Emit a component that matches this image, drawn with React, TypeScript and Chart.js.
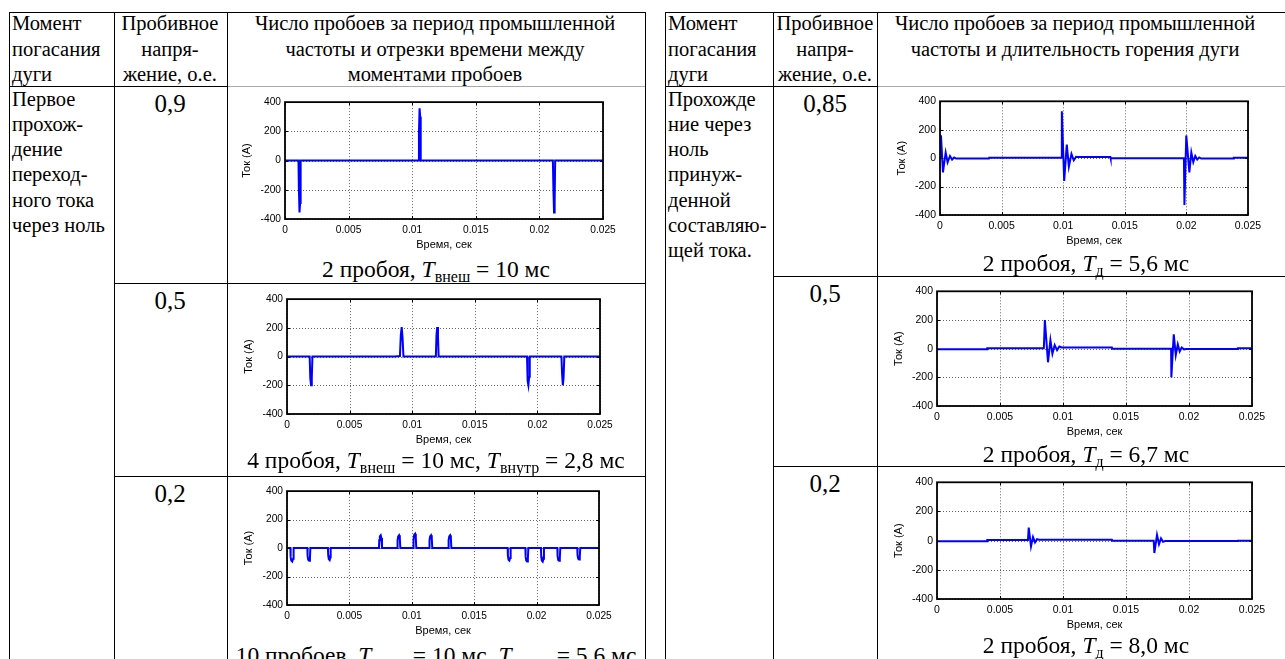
import React, { useEffect, useRef } from 'react';
import { Chart, registerables } from 'chart.js';
Chart.register(...registerables);

type Pt = [number, number];

// ---------- axis data ----------
const X_TICKS = [0, 0.005, 0.01, 0.015, 0.02, 0.025];
const X_TICK_LABELS = ['0', '0.005', '0.01', '0.015', '0.02', '0.025'];
const Y_TICKS = [-400, -200, 0, 200, 400];
const Y_TICK_LABELS = ['-400', '-200', '0', '200', '400'];
const X_TITLE = 'Время, сек';
const Y_TITLE = 'Ток (A)';

// ---------- series: [time, s ; current, A] ----------
const CUR_L_09: Pt[] = [
  [0, 0], [0.00106, 0], [0.00109, -190], [0.00114, -355], [0.00119, -290], [0.00123, 0],
  [0.01049, 0], [0.01053, 190], [0.01058, 358], [0.01063, 300], [0.01067, 0],
  [0.02106, 0], [0.0211, -190], [0.02115, -355], [0.0212, -280], [0.02124, 0],
  [0.025, 0],
];
const CUR_L_05: Pt[] = [
  [0, 0],
  [0.00181, 0], [0.00186, -150], [0.00192, -200], [0.00198, -150], [0.00203, 0],
  [0.0086, 0], [0.00902, 4], [0.00909, 150], [0.00916, 205], [0.00923, 130], [0.0093, 0],
  [0.01189, 0], [0.01194, 150], [0.012, 205], [0.01206, 140], [0.01211, 0],
  [0.01917, 0], [0.01922, -170], [0.01928, -200], [0.01934, -140], [0.01939, 0],
  [0.02192, 0], [0.02197, -120], [0.02203, -200], [0.02209, -150], [0.02215, 0],
  [0.025, 0],
];
const CUR_L_02: Pt[] = [
  [0, 0],
  [0.00027, 0], [0.00029, -60], [0.00034, -88], [0.00042, -95], [0.00049, -75], [0.00053, 0],
  [0.00163, 0], [0.00165, -55], [0.0017, -82], [0.00178, -90], [0.00184, -70], [0.00187, 0],
  [0.00328, 0], [0.0033, -50], [0.00335, -78], [0.00342, -85], [0.00347, -65], [0.0035, 0],
  [0.00737, 0], [0.00739, 55], [0.00744, 82], [0.00751, 90], [0.00757, 70], [0.00761, 0],
  [0.00884, 0], [0.00886, 55], [0.00891, 82], [0.00898, 90], [0.00904, 70], [0.00908, 0],
  [0.01012, 0], [0.01014, 60], [0.01019, 92], [0.01026, 100], [0.01032, 75], [0.01036, 0],
  [0.0114, 0], [0.01142, 55], [0.01147, 82], [0.01154, 90], [0.0116, 70], [0.01164, 0],
  [0.01293, 0], [0.01295, 55], [0.013, 82], [0.01307, 90], [0.01313, 70], [0.01317, 0],
  [0.01768, 0], [0.0177, -55], [0.01775, -82], [0.01782, -88], [0.01788, -70], [0.01792, 0],
  [0.0191, 0], [0.01912, -60], [0.01917, -88], [0.01924, -95], [0.0193, -75], [0.01934, 0],
  [0.02035, 0], [0.02037, -60], [0.02042, -88], [0.02049, -95], [0.02055, -75], [0.02059, 0],
  [0.02166, 0], [0.02168, -55], [0.02173, -84], [0.0218, -90], [0.02186, -72], [0.0219, 0],
  [0.02326, 0], [0.02328, -50], [0.02333, -75], [0.0234, -80], [0.02346, -62], [0.0235, 0],
  [0.025, 0],
];
const CUR_R_085: Pt[] = [
  [0, 0], [0.00008, 160], [0.00024, -100], [0.00046, 40], [0.00062, -30], [0.00081, 15],
  [0.00098, -10], [0.00115, 5], [0.0013, -3],
  [0.00397, -3], [0.00399, 3],
  [0.00985, 3], [0.00989, 330], [0.01008, -160], [0.01029, 95], [0.01046, -60], [0.01067, 30],
  [0.01086, -15], [0.01105, 10], [0.0112, 8],
  [0.01383, 8], [0.01385, 0],
  [0.0198, 0], [0.01984, -330], [0.01999, 160], [0.02024, -100], [0.0204, 40], [0.02056, -28],
  [0.02072, 15], [0.02088, -10], [0.02104, 5], [0.0212, -3],
  [0.02383, -3], [0.02385, 2], [0.025, 2],
];
const CUR_R_05: Pt[] = [
  [0, -4], [0.00397, -4], [0.00399, 2],
  [0.00848, 2], [0.00856, 200], [0.00881, -95], [0.009, 60], [0.00916, -35], [0.00934, 25],
  [0.00953, -10], [0.00971, 15], [0.0099, 8],
  [0.01388, 8], [0.0139, 0],
  [0.01858, 0], [0.0186, -200], [0.01879, 100], [0.01895, -45], [0.01911, 30], [0.01926, -20],
  [0.01942, 8], [0.0196, -5], [0.0198, -3],
  [0.02386, -3], [0.02388, 3], [0.025, 3],
];
const CUR_R_02: Pt[] = [
  [0, -4], [0.00397, -4], [0.00399, 4],
  [0.00722, 4], [0.00728, 90], [0.00746, -40], [0.00762, 25], [0.00778, -12], [0.00794, 10], [0.0081, 6],
  [0.01388, 6], [0.0139, 0],
  [0.0172, 0], [0.01725, -85], [0.01746, 40], [0.01762, -25], [0.01778, 15], [0.01794, -8], [0.0181, -3],
  [0.02386, -3], [0.02388, 0], [0.025, 0],
];

// ---------- table text ----------
const HEAD_MOMENT = ['Момент', 'погасания', 'дуги'];
const HEAD_VOLTAGE = ['Пробивное', 'напря-', 'жение, о.е.'];
const HEAD_LEFT_RESULT = ['Число пробоев за период промышленной', 'частоты и отрезки времени между', 'моментами пробоев'];
const HEAD_RIGHT_RESULT = ['Число пробоев за период промышленной', 'частоты и длительность горения дуги'];
const LEFT_MOMENT = ['Первое', 'прохож-', 'дение', 'переход-', 'ного тока', 'через ноль'];
const RIGHT_MOMENT = ['Прохожде', 'ние через', 'ноль', 'принуж-', 'денной', 'составляю-', 'щей тока.'];
const LEFT_VOLTAGES = ['0,9', '0,5', '0,2'];
const RIGHT_VOLTAGES = ['0,85', '0,5', '0,2'];
type Seg = string | [string, string];
const LEFT_CAPTIONS: Seg[][] = [
  ['2 пробоя, ', ['T', 'внеш'], ' = 10 мс'],
  ['4 пробоя, ', ['T', 'внеш'], ' = 10 мс, ', ['T', 'внутр'], ' = 2,8 мс'],
  ['10 пробоев, ', ['T', 'внеш'], ' = 10 мс, ', ['T', 'внутр'], ' = 5,6 мс'],
];
const RIGHT_CAPTIONS: Seg[][] = [
  ['2 пробоя, ', ['T', 'д'], ' = 5,6 мс'],
  ['2 пробоя, ', ['T', 'д'], ' = 6,7 мс'],
  ['2 пробоя, ', ['T', 'д'], ' = 8,0 мс'],
];

// ---------- layout ----------
const LEFT_PLOTS = [
  { l: 285, t: 100, r: 603, b: 219 },
  { l: 287, t: 297, r: 600, b: 414 },
  { l: 287, t: 489, r: 599, b: 605 },
];
const RIGHT_PLOTS = [
  { l: 940, t: 99, r: 1248, b: 215 },
  { l: 937, t: 289, r: 1252, b: 406 },
  { l: 937, t: 480, r: 1252, b: 599 },
];
const LEFT_CAPTION_BASE = [277, 468, 663];
const RIGHT_CAPTION_BASE = [271, 462, 653];
const LEFT_ROWS = [86, 283, 476];
const RIGHT_ROWS = [86, 276, 466];

const SERIF = '"Liberation Serif", "Times New Roman", serif';
const SANS = "'Liberation Sans', Arial, sans-serif";

const YW = 45, PT = 8, PR = 22, XH = 36;

const matlabPlugin = {
  id: 'matlabAxes',
  beforeDatasetsDraw(chart: any) {
    const { ctx, chartArea: a, scales } = chart;
    const x = scales.x, y = scales.y;
    ctx.save();
    ctx.strokeStyle = 'rgba(0,0,0,0.6)';
    ctx.lineWidth = 1;
    ctx.setLineDash([1, 2]);
    ctx.beginPath();
    X_TICKS.forEach((v) => {
      const p = Math.round(x.getPixelForValue(v)) + 0.5;
      ctx.moveTo(p, a.top); ctx.lineTo(p, a.bottom);
    });
    Y_TICKS.forEach((v) => {
      const p = Math.round(y.getPixelForValue(v)) + 0.5;
      ctx.moveTo(a.left, p); ctx.lineTo(a.right, p);
    });
    ctx.stroke();
    ctx.restore();
  },
  afterDatasetsDraw(chart: any) {
    const { ctx, chartArea: a, scales } = chart;
    const x = scales.x, y = scales.y;
    ctx.save();
    ctx.setLineDash([]);
    ctx.strokeStyle = '#000';
    ctx.lineWidth = 1;
    ctx.beginPath();
    const tl = 3;
    X_TICKS.forEach((v) => {
      const p = Math.round(x.getPixelForValue(v)) + 0.5;
      ctx.moveTo(p, a.top); ctx.lineTo(p, a.top + tl);
      ctx.moveTo(p, a.bottom); ctx.lineTo(p, a.bottom - tl);
    });
    Y_TICKS.forEach((v) => {
      const p = Math.round(y.getPixelForValue(v)) + 0.5;
      ctx.moveTo(a.left, p); ctx.lineTo(a.left + tl, p);
      ctx.moveTo(a.right, p); ctx.lineTo(a.right - tl, p);
    });
    ctx.stroke();
    ctx.lineWidth = 1.8;
    ctx.strokeRect(a.left, a.top, a.right - a.left, a.bottom - a.top);
    ctx.restore();
  },
};

function Plot({ points, plot, font }: { points: Pt[]; plot: { l: number; t: number; r: number; b: number }; font: number }) {
  const ref = useRef<HTMLCanvasElement>(null);
  const w = plot.r - plot.l + YW + PR;
  const h = plot.b - plot.t + PT + XH;
  useEffect(() => {
    if (!ref.current) return;
    const tickFont = { family: SANS, size: font };
    const titleFont = { family: SANS, size: 11 };
    const chart = new Chart(ref.current, {
      type: 'line',
      data: {
        datasets: [{
          data: points.map(([x, y]) => ({ x, y })),
          borderColor: '#0000ff',
          borderWidth: 2,
          pointRadius: 0,
          tension: 0,
          fill: false,
        }],
      },
      options: {
        responsive: false,
        maintainAspectRatio: false,
        animation: false,
        events: [],
        layout: { padding: { left: 0, top: PT, right: PR, bottom: 0 } },
        plugins: { legend: { display: false }, tooltip: { enabled: false } },
        scales: {
          x: {
            type: 'linear',
            min: 0,
            max: 0.025,
            afterBuildTicks: (s: any) => { s.ticks = X_TICKS.map((v) => ({ value: v })); },
            afterFit: (s: any) => { s.height = XH; },
            grid: { display: false, drawTicks: false },
            border: { display: false },
            ticks: {
              callback: (_v: any, i: number) => X_TICK_LABELS[i],
              padding: 5,
              color: '#000',
              font: tickFont,
              maxRotation: 0,
              autoSkip: false,
            },
            title: { display: true, text: X_TITLE, color: '#000', font: titleFont, padding: { top: 0, bottom: 3 } },
          },
          y: {
            type: 'linear',
            min: -400,
            max: 400,
            afterBuildTicks: (s: any) => { s.ticks = Y_TICKS.map((v) => ({ value: v })); },
            afterFit: (s: any) => { s.width = YW; },
            grid: { display: false, drawTicks: false },
            border: { display: false },
            ticks: {
              callback: (_v: any, i: number) => Y_TICK_LABELS[i],
              padding: 4,
              color: '#000',
              font: tickFont,
              autoSkip: false,
            },
            title: { display: true, text: Y_TITLE, color: '#000', font: titleFont, padding: { top: 0, bottom: 0 } },
          },
        },
      } as any,
      plugins: [matlabPlugin],
    });
    return () => chart.destroy();
  }, []);
  return (
    <canvas
      ref={ref}
      width={w}
      height={h}
      style={{ position: 'absolute', left: plot.l - YW, top: plot.t - PT, width: w, height: h }}
    />
  );
}

function Lines({ x, y, w, align, size, lh, lines }: { x: number; y: number; w: number; align: 'left' | 'center'; size: number; lh: number; lines: string[] }) {
  return (
    <div
      style={{
        position: 'absolute', left: x, top: y, width: w, textAlign: align,
        fontFamily: SERIF, fontSize: size, lineHeight: lh + 'px', whiteSpace: 'nowrap', color: '#000',
      }}
    >
      {lines.map((l, i) => <div key={i}>{l}</div>)}
    </div>
  );
}

function Caption({ cx, base, segs }: { cx: number; base: number; segs: Seg[] }) {
  return (
    <div
      style={{
        position: 'absolute', left: cx - 250, top: base - 20.9, width: 500, textAlign: 'center',
        fontFamily: SERIF, fontSize: 23.5, lineHeight: '26px', whiteSpace: 'nowrap', color: '#000',
      }}
    >
      {segs.map((s, i) =>
        typeof s === 'string' ? (
          <span key={i}>{s}</span>
        ) : (
          <span key={i}>
            <i>{s[0]}</i>
            <span style={{ fontSize: 16, position: 'relative', top: 5 }}>{s[1]}</span>
          </span>
        )
      )}
    </div>
  );
}

function HLine({ x1, x2, y, color = '#000' }: { x1: number; x2: number; y: number; color?: string }) {
  return <div style={{ position: 'absolute', left: x1, top: y, width: x2 - x1, height: 1, background: color }} />;
}
function VLine({ x, y1, y2 }: { x: number; y1: number; y2: number }) {
  return <div style={{ position: 'absolute', left: x, top: y1, width: 1, height: y2 - y1, background: '#000' }} />;
}

export default function App() {
  const HS = 20.5, HLH = 25.3;
  return (
    <div style={{ position: 'absolute', left: 0, top: 0, width: 1285, height: 659, overflow: 'hidden', background: '#fff' }}>
      {/* left table grid */}
      <HLine x1={9} x2={645} y={12} />
      <HLine x1={9} x2={227} y={86} />
      <HLine x1={227} x2={645} y={86} color="#aaa" />
      <HLine x1={114} x2={645} y={LEFT_ROWS[1]} />
      <HLine x1={114} x2={645} y={LEFT_ROWS[2]} />
      <VLine x={9} y1={12} y2={659} />
      <VLine x={114} y1={12} y2={659} />
      <VLine x={227} y1={12} y2={659} />
      <VLine x={645} y1={12} y2={659} />
      {/* right table grid */}
      <HLine x1={665} x2={1285} y={12} />
      <HLine x1={665} x2={877} y={86} />
      <HLine x1={877} x2={1285} y={86} color="#aaa" />
      <HLine x1={773} x2={1285} y={RIGHT_ROWS[1]} />
      <HLine x1={773} x2={1285} y={RIGHT_ROWS[2]} />
      <VLine x={665} y1={12} y2={659} />
      <VLine x={773} y1={12} y2={659} />
      <VLine x={877} y1={12} y2={659} />

      {/* headers */}
      <Lines x={12} y={11.3} w={100} align="left" size={HS} lh={HLH} lines={HEAD_MOMENT} />
      <Lines x={70} y={11.3} w={200} align="center" size={HS} lh={HLH} lines={HEAD_VOLTAGE} />
      <Lines x={135} y={11.3} w={600} align="center" size={HS} lh={HLH} lines={HEAD_LEFT_RESULT} />
      <Lines x={668} y={11.3} w={100} align="left" size={HS} lh={HLH} lines={HEAD_MOMENT} />
      <Lines x={725} y={11.3} w={200} align="center" size={HS} lh={HLH} lines={HEAD_VOLTAGE} />
      <Lines x={775} y={11.3} w={600} align="center" size={HS} lh={HLH} lines={HEAD_RIGHT_RESULT} />

      {/* row labels */}
      <Lines x={12} y={86.6} w={100} align="left" size={HS} lh={HLH} lines={LEFT_MOMENT} />
      <Lines x={668} y={86.6} w={100} align="left" size={HS} lh={HLH} lines={RIGHT_MOMENT} />
      {LEFT_VOLTAGES.map((v, i) => (
        <Lines key={'lv' + i} x={70} y={LEFT_ROWS[i] + 3} w={200} align="center" size={25} lh={30} lines={[v]} />
      ))}
      {RIGHT_VOLTAGES.map((v, i) => (
        <Lines key={'rv' + i} x={725} y={RIGHT_ROWS[i] + 3} w={200} align="center" size={25} lh={30} lines={[v]} />
      ))}

      {/* charts */}
      <Plot points={CUR_L_09} plot={LEFT_PLOTS[0]} font={10.2} />
      <Plot points={CUR_L_05} plot={LEFT_PLOTS[1]} font={10.2} />
      <Plot points={CUR_L_02} plot={LEFT_PLOTS[2]} font={10.2} />
      <Plot points={CUR_R_085} plot={RIGHT_PLOTS[0]} font={10.5} />
      <Plot points={CUR_R_05} plot={RIGHT_PLOTS[1]} font={10.5} />
      <Plot points={CUR_R_02} plot={RIGHT_PLOTS[2]} font={10.5} />

      {/* captions */}
      {LEFT_CAPTIONS.map((c, i) => (
        <Caption key={'lc' + i} cx={436} base={LEFT_CAPTION_BASE[i]} segs={c} />
      ))}
      {RIGHT_CAPTIONS.map((c, i) => (
        <Caption key={'rc' + i} cx={1086} base={RIGHT_CAPTION_BASE[i]} segs={c} />
      ))}
    </div>
  );
}
